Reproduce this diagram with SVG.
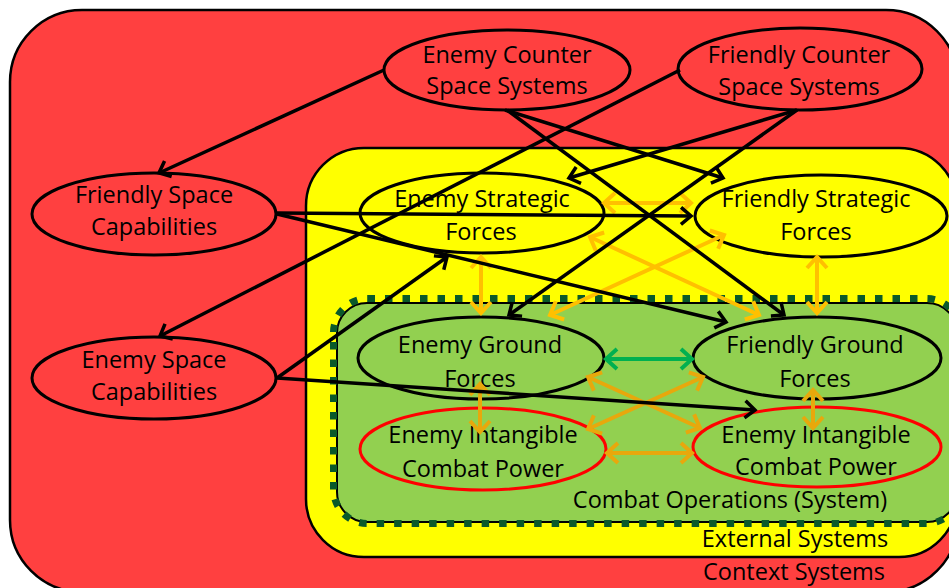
<svg xmlns="http://www.w3.org/2000/svg" width="949" height="588" viewBox="0 0 949 588">
  <style>
    .lbl { font-family: "Open Sans", "Liberation Sans", sans-serif; font-size: 23.5px; fill: #000; text-anchor: middle; }
    .nodeR { fill: #FF4040; stroke: #000; stroke-width: 3; }
    .nodeY { fill: #FFFF00; stroke: #000; stroke-width: 3; }
    .nodeG { fill: #92D050; stroke: #000; stroke-width: 3; }
    .nodeI { fill: #92D050; stroke: #FF0000; stroke-width: 3; }
    .blk { stroke: #000; stroke-width: 3.5; fill: none; marker-end: url(#headBlack); }
    .org { stroke: #FFC000; stroke-width: 4; fill: none; marker-start: url(#headOrange); marker-end: url(#headOrange); }
    .org2 { stroke: #E8A80C; stroke-width: 4; fill: none; marker-start: url(#headOrange2); marker-end: url(#headOrange2); }
    .grn { stroke: #00B050; stroke-width: 4; fill: none; marker-start: url(#headGreen); marker-end: url(#headGreen); }
  </style>
  <defs>
    <marker id="headBlack" markerUnits="userSpaceOnUse" viewBox="-14 -12 18 24" refX="0" refY="0" markerWidth="18" markerHeight="24" orient="auto-start-reverse">
      <path d="M-10,-8.5 L0,0 L-10,8.5" fill="none" stroke="#000" stroke-width="3.5"/>
    </marker>
    <marker id="headOrange" markerUnits="userSpaceOnUse" viewBox="-16 -14 20 28" refX="0" refY="0" markerWidth="20" markerHeight="28" orient="auto-start-reverse">
      <path d="M-11,-10 L0,0 L-11,10" fill="none" stroke="#FFC000" stroke-width="4"/>
    </marker>
    <marker id="headOrange2" markerUnits="userSpaceOnUse" viewBox="-16 -14 20 28" refX="0" refY="0" markerWidth="20" markerHeight="28" orient="auto-start-reverse">
      <path d="M-11,-10 L0,0 L-11,10" fill="none" stroke="#E8A80C" stroke-width="4"/>
    </marker>
    <marker id="headGreen" markerUnits="userSpaceOnUse" viewBox="-16 -14 20 28" refX="0" refY="0" markerWidth="20" markerHeight="28" orient="auto-start-reverse">
      <path d="M-11,-10 L0,0 L-11,10" fill="none" stroke="#00B050" stroke-width="4"/>
    </marker>
  </defs>

  <rect width="949" height="588" fill="#FFFFFF"/>

  <!-- nested system boundaries -->
  <g id="context-systems">
    <rect x="10" y="10" width="948" height="582" rx="72" ry="72" fill="#FF4040" stroke="#000" stroke-width="2.5"/>
    <text class="lbl" x="794" y="580">Context Systems</text>
  </g>
  <g id="external-systems">
    <rect x="306" y="148" width="651" height="409" rx="58" ry="58" fill="#FFFF00" stroke="#000" stroke-width="2.5"/>
    <text class="lbl" x="795" y="547">External Systems</text>
  </g>
  <g id="combat-operations">
    <rect x="337" y="303" width="620" height="219" rx="30" ry="30" fill="#92D050" stroke="#000" stroke-width="2"/>
    <rect x="333.5" y="298.5" width="627" height="225" rx="34" ry="34" fill="none" stroke="#0A5A2A" stroke-width="7" stroke-dasharray="7.5 10"/>
    <text class="lbl" x="730" y="508">Combat Operations (System)</text>
  </g>

  <!-- nodes -->
  <g id="enemy-counter-space">
    <ellipse class="nodeR" cx="507" cy="70" rx="123" ry="40"/>
    <text class="lbl" x="507" y="63">Enemy Counter</text>
    <text class="lbl" x="507" y="94">Space Systems</text>
  </g>
  <g id="friendly-counter-space">
    <ellipse class="nodeR" cx="800" cy="69" rx="122" ry="41"/>
    <text class="lbl" x="799" y="63">Friendly Counter</text>
    <text class="lbl" x="799" y="95">Space Systems</text>
  </g>
  <g id="friendly-space-capabilities">
    <ellipse class="nodeR" cx="154" cy="214" rx="122" ry="41"/>
    <text class="lbl" x="154" y="203">Friendly Space</text>
    <text class="lbl" x="154" y="235">Capabilities</text>
  </g>
  <g id="enemy-space-capabilities">
    <ellipse class="nodeR" cx="154" cy="378" rx="122" ry="41"/>
    <text class="lbl" x="154" y="368">Enemy Space</text>
    <text class="lbl" x="154" y="400">Capabilities</text>
  </g>
  <g id="enemy-strategic-forces">
    <ellipse class="nodeY" cx="482" cy="213" rx="122" ry="40"/>
    <text class="lbl" x="482" y="207">Enemy Strategic</text>
    <text class="lbl" x="481" y="240">Forces</text>
  </g>
  <g id="friendly-strategic-forces">
    <ellipse class="nodeY" cx="821" cy="216" rx="126" ry="41"/>
    <text class="lbl" x="816" y="207">Friendly Strategic</text>
    <text class="lbl" x="816" y="240">Forces</text>
  </g>
  <g id="enemy-ground-forces">
    <ellipse class="nodeG" cx="481" cy="358" rx="123" ry="41"/>
    <text class="lbl" x="480" y="353">Enemy Ground</text>
    <text class="lbl" x="480" y="387">Forces</text>
  </g>
  <g id="friendly-ground-forces">
    <ellipse class="nodeG" cx="817" cy="358" rx="124" ry="41"/>
    <text class="lbl" x="815" y="353">Friendly Ground</text>
    <text class="lbl" x="815" y="387">Forces</text>
  </g>
  <g id="enemy-intangible-left">
    <ellipse class="nodeI" cx="483" cy="449" rx="123" ry="41"/>
    <text class="lbl" x="483" y="443">Enemy Intangible</text>
    <text class="lbl" x="483" y="477">Combat Power</text>
  </g>
  <g id="enemy-intangible-right">
    <ellipse class="nodeI" cx="817" cy="447" rx="124" ry="40"/>
    <text class="lbl" x="816" y="443">Enemy Intangible</text>
    <text class="lbl" x="816" y="475">Combat Power</text>
  </g>

  <!-- connectors -->
  <g id="connectors">
    <path class="org" d="M604,203 L691,203"/>
    <path class="org" d="M481,257 L481,313"/>
    <path class="org" d="M817,257 L817,313"/>
    <path class="org" d="M590,237 L759,315"/>
    <path class="org" d="M724,235 L550,315"/>
    <path class="org2" d="M480,384 L480,432"/>
    <path class="org2" d="M813,390 L813,428"/>
    <path class="org2" d="M588,377 L700,428"/>
    <path class="org2" d="M703,377 L588,429"/>
    <path class="org2" d="M607,453 L692,453"/>
    <path class="grn" d="M606,359 L692,359"/>

    <path class="blk" d="M384,70 L159,173"/>
    <path class="blk" d="M505,110 L723,178"/>
    <path class="blk" d="M507,110 L784,315"/>
    <path class="blk" d="M680,70 L160,336"/>
    <path class="blk" d="M797,110 L569,178"/>
    <path class="blk" d="M797,110 L509,315"/>
    <path class="blk" d="M277,213 L691,216"/>
    <path class="blk" d="M277,214 L726,322"/>
    <path class="blk" d="M277,378 L447,257"/>
    <path class="blk" d="M277,378 L755,410"/>
  </g>
</svg>
